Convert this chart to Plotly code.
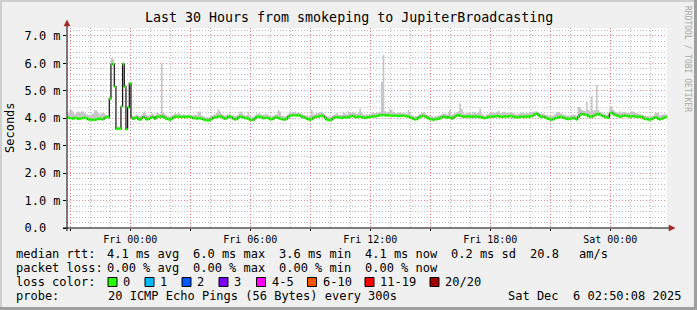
import plotly.graph_objects as go
import pandas as pd

# ---------------- data ----------------
# median RTT (ms), one value per 5-minute step, 12 values per hour row
median_ms = [
    4.02, 4.00, 4.00, 3.99, 4.01, 4.00, 3.98, 3.99, 4.00, 4.01, 4.02, 4.00,
    3.96, 3.95, 3.94, 3.95, 3.94, 3.96, 3.98, 3.99, 3.96, 3.97, 4.02, 4.04,
    4.04, 4.72, 5.97, 5.97, 5.15, 3.62, 3.62, 3.62, 4.42, 5.97, 5.15, 3.60,
    4.40, 5.27, 4.02, 3.98, 4.00, 4.03, 3.97, 3.95, 4.00, 4.05, 4.02, 3.96,
    3.97, 4.00, 4.04, 4.03, 3.98, 4.05, 4.06, 4.04, 4.08, 4.05, 4.02, 3.98,
    3.97, 3.95, 3.98, 4.02, 4.06, 4.05, 4.06, 4.05, 4.04, 4.06, 4.04, 4.05,
    4.06, 4.05, 4.03, 4.00, 4.01, 3.99, 4.00, 4.00, 3.98, 3.96, 3.94, 3.93,
    3.92, 3.94, 3.98, 4.02, 4.03, 4.04, 4.06, 4.07, 4.05, 4.01, 3.98, 4.00,
    4.05, 4.06, 4.03, 3.99, 3.96, 3.97, 4.02, 4.06, 4.05, 4.03, 4.00, 4.01,
    3.98, 3.95, 3.93, 3.94, 3.99, 4.04, 4.06, 4.05, 4.03, 4.00, 4.01, 4.02,
    4.00, 3.97, 3.96, 3.99, 4.02, 4.03, 4.01, 3.99, 3.97, 3.96, 3.95, 3.98,
    4.05, 4.09, 4.10, 4.11, 4.11, 4.10, 4.11, 4.09, 4.06, 4.03, 4.02, 3.99,
    3.96, 3.95, 3.97, 4.01, 4.04, 4.05, 4.06, 4.08, 4.09, 4.08, 4.02, 3.96,
    3.94, 3.93, 3.96, 4.00, 4.03, 4.04, 4.03, 4.02, 4.01, 4.03, 4.04, 4.02,
    4.04, 4.06, 4.09, 4.08, 4.05, 4.04, 4.06, 4.05, 4.04, 4.02, 4.01, 4.03,
    4.03, 4.05, 4.06, 4.07, 4.07, 4.08, 4.10, 4.11, 4.12, 4.11, 4.12, 4.10,
    4.11, 4.10, 4.09, 4.09, 4.10, 4.09, 4.08, 4.09, 4.10, 4.09, 4.08, 4.07,
    4.06, 4.03, 4.01, 3.98, 3.96, 3.97, 4.01, 4.05, 4.08, 4.09, 4.07, 4.03,
    4.00, 3.97, 3.96, 3.95, 3.96, 3.97, 3.99, 4.00, 4.03, 4.06, 4.05, 4.02,
    4.04, 4.02, 3.99, 4.02, 4.06, 4.10, 4.11, 4.09, 4.07, 4.06, 4.05, 4.06,
    4.07, 4.06, 4.05, 4.06, 4.07, 4.05, 4.06, 4.04, 4.03, 4.01, 4.00, 4.02,
    4.04, 4.06, 4.05, 4.06, 4.07, 4.08, 4.07, 4.06, 4.05, 4.06, 4.07, 4.06,
    4.07, 4.08, 4.07, 4.06, 4.04, 4.03, 4.04, 4.05, 4.06, 4.06, 4.05, 4.06,
    4.06, 4.07, 4.08, 4.10, 4.14, 4.17, 4.12, 4.07, 4.05, 4.06, 4.03, 4.00,
    3.98, 3.96, 3.95, 3.97, 4.00, 4.01, 4.03, 4.05, 4.04, 4.02, 4.00, 3.98,
    3.97, 3.98, 4.00, 4.02, 3.99, 3.96, 4.05, 4.12, 4.16, 4.14, 4.13, 4.12,
    4.08, 4.06, 4.05, 4.08, 4.11, 4.14, 4.15, 4.12, 4.10, 4.07, 4.05, 4.03,
    4.02, 4.18, 4.20, 4.16, 4.12, 4.10, 4.08, 4.06, 4.07, 4.09, 4.10, 4.09,
    4.07, 4.06, 4.07, 4.08, 4.07, 4.06, 4.05, 4.06, 4.04, 4.00, 3.98, 3.97,
    3.96, 3.95, 3.97, 4.00, 4.03, 4.02, 3.98, 3.96, 3.99, 4.01, 4.03, 4.04,
]

# slowest ping of each 5-minute round (top of the smoke), ms
max_ms = [
    4.18, 4.33, 4.30, 4.20, 4.15, 4.22, 4.25, 4.22, 4.26, 4.25, 4.18, 4.15,
    4.12, 4.10, 4.15, 4.18, 4.30, 4.28, 4.20, 4.14, 4.18, 4.22, 4.15, 4.12,
    4.10, 4.80, 6.20, 6.15, 5.20, 3.70, 3.68, 3.70, 4.50, 6.05, 5.25, 3.68,
    4.45, 5.33, 4.12, 4.08, 4.10, 4.15, 4.10, 4.08, 4.12, 4.20, 4.26, 4.12,
    4.10, 4.12, 4.18, 4.15, 4.10, 4.20, 4.18, 4.15, 6.00, 4.22, 4.15, 4.10,
    4.08, 4.06, 4.10, 4.15, 4.18, 4.15, 4.20, 4.16, 4.12, 4.15, 4.14, 4.12,
    4.15, 4.14, 4.12, 4.10, 4.14, 4.12, 4.24, 4.25, 4.10, 4.08, 4.05, 4.04,
    4.03, 4.06, 4.10, 4.12, 4.15, 4.20, 4.33, 4.25, 4.18, 4.12, 4.10, 4.12,
    4.15, 4.16, 4.12, 4.10, 4.08, 4.10, 4.15, 4.25, 4.24, 4.14, 4.10, 4.12,
    4.24, 4.08, 4.05, 4.06, 4.10, 4.15, 4.18, 4.16, 4.14, 4.12, 4.14, 4.16,
    4.12, 4.08, 4.07, 4.10, 4.14, 4.15, 4.30, 4.25, 4.10, 4.08, 4.06, 4.10,
    4.16, 4.25, 4.20, 4.22, 4.24, 4.20, 4.22, 4.18, 4.16, 4.14, 4.12, 4.10,
    4.08, 4.10, 4.30, 4.14, 4.16, 4.18, 4.20, 4.22, 4.25, 4.20, 4.14, 4.08,
    4.06, 4.05, 4.08, 4.12, 4.15, 4.18, 4.14, 4.13, 4.12, 4.24, 4.18, 4.14,
    4.26, 4.18, 4.20, 4.22, 4.18, 4.16, 4.18, 4.36, 4.20, 4.14, 4.12, 4.15,
    4.14, 4.16, 4.18, 4.20, 4.18, 4.20, 4.22, 4.25, 5.33, 6.30, 4.26, 4.22,
    4.24, 4.36, 4.30, 4.22, 4.20, 4.18, 4.22, 4.20, 4.18, 4.20, 4.18, 4.16,
    4.30, 4.18, 4.12, 4.08, 4.07, 4.08, 4.12, 4.16, 4.20, 4.22, 4.18, 4.14,
    4.12, 4.08, 4.07, 4.06, 4.07, 4.08, 4.10, 4.12, 4.15, 4.18, 4.16, 4.14,
    4.20, 4.30, 4.12, 4.16, 4.20, 4.22, 4.26, 4.54, 4.36, 4.18, 4.16, 4.18,
    4.20, 4.18, 4.16, 4.22, 4.20, 4.18, 4.20, 4.36, 4.16, 4.12, 4.10, 4.14,
    4.16, 4.18, 4.20, 4.24, 4.20, 4.22, 4.28, 4.18, 4.20, 4.22, 4.24, 4.20,
    4.18, 4.20, 4.22, 4.18, 4.16, 4.15, 4.16, 4.18, 4.20, 4.18, 4.17, 4.18,
    4.18, 4.20, 4.22, 4.24, 4.25, 4.26, 4.22, 4.18, 4.16, 4.18, 4.14, 4.12,
    4.10, 4.08, 4.07, 4.10, 4.16, 4.22, 4.24, 4.20, 4.16, 4.14, 4.12, 4.10,
    4.08, 4.10, 4.12, 4.14, 4.12, 4.10, 4.42, 4.40, 4.30, 4.28, 4.26, 4.60,
    4.30, 4.26, 4.79, 4.28, 4.30, 5.21, 4.30, 4.24, 4.22, 4.18, 4.16, 4.14,
    4.14, 4.43, 4.43, 4.30, 4.24, 4.22, 4.20, 4.26, 4.20, 4.22, 4.24, 4.20,
    4.18, 4.20, 4.26, 4.24, 4.20, 4.18, 4.16, 4.15, 4.14, 4.12, 4.10, 4.08,
    4.07, 4.06, 4.08, 4.10, 4.18, 4.20, 4.20, 4.10, 4.12, 4.14, 4.16, 4.15,
]

y_tick_vals = [0, 1, 2, 3, 4, 5, 6, 7]
y_tick_text = ["0.0\u00a0\u00a0", "1.0 m", "2.0 m", "3.0 m", "4.0 m", "5.0 m", "6.0 m", "7.0 m"]

title_text = "Last 30 Hours from smokeping to JupiterBroadcasting"
rtt_stats = ["4.1 ms avg", "6.0 ms max", "3.6 ms min", "4.1 ms now", "0.2 ms sd", "20.8", "am/s"]
loss_stats = ["0.00 % avg", "0.00 % max", "0.00 % min", "0.00 % now"]
loss_labels = ["0", "1", "2", "3", "4-5", "6-10", "11-19", "20/20"]
loss_colors = ["#26ff00", "#00b8ff", "#0059ff", "#7e00ff", "#ff00ff", "#ff5500", "#ff0000", "#a00000"]
probe_text = "20 ICMP Echo Pings (56 Bytes) every 300s"
stamp_text = "Sat Dec\u00a0 6 02:50:08 2025"

# ---------------- layout helpers ----------------
W, H = 697, 310
L, T, PW, PH = 67, 28, 600, 200
FONT = "DejaVu Sans Mono"


def px(x):
    return (x - L) / PW


def py(y):
    return (T + PH - y) / PH


start = pd.Timestamp("2025-12-04 20:50:08")
end = pd.Timestamp("2025-12-06 02:50:08")
step = pd.Timedelta(minutes=5)
times = list(pd.date_range("2025-12-04 20:52:00", periods=len(median_ms), freq="5min"))

xs = times + [times[-1] + step]
med_ext = median_ms + [median_ms[-1]]
max_ext = max_ms + [max_ms[-1]]

fig = go.Figure()
# smoke
fig.add_trace(go.Scatter(x=xs, y=med_ext, mode="lines", line=dict(width=0, shape="hv"),
                         hoverinfo="skip"))
fig.add_trace(go.Scatter(x=xs, y=max_ext, mode="lines", line=dict(width=0, shape="hv"),
                         fill="tonexty", fillcolor="#c6c6c6", hoverinfo="skip"))
# median: thin dark connector + loss-coloured horizontal pieces
fig.add_trace(go.Scatter(x=xs, y=med_ext, mode="lines",
                         line=dict(width=1.2, shape="hv", color="#111111"), hoverinfo="skip"))
seg_x, seg_y = [], []
for t, v in zip(times, median_ms):
    seg_x += [t, t + step, None]
    seg_y += [v, v, None]
fig.add_trace(go.Scatter(x=seg_x, y=seg_y, mode="lines",
                         line=dict(width=2.6, color=loss_colors[0]), hoverinfo="skip"))

major = list(pd.date_range("2025-12-04 21:00", "2025-12-06 00:00", freq="3h"))
major_text = [t.strftime("%a %H:%M") if t.hour % 6 == 0 else "" for t in major]
minor = list(pd.date_range("2025-12-04 21:00", "2025-12-06 02:00", freq="1h"))
ymin = [round(0.2 * k, 1) for k in range(1, 37) if k % 5]

RED = "rgba(240,120,120,0.85)"
GRAY = "rgba(170,170,170,0.8)"
DASH = "1px,2px"

fig.update_xaxes(range=[start, end], tickmode="array", tickvals=major, ticktext=major_text,
                 showgrid=True, gridcolor=RED, griddash=DASH, gridwidth=1,
                 ticks="outside", ticklen=2, tickcolor="#000",
                 tickfont=dict(family=FONT, size=10, color="#000"),
                 showline=False, zeroline=False, fixedrange=True,
                 minor=dict(tickmode="array", tickvals=minor, showgrid=True,
                            gridcolor=GRAY, griddash=DASH, gridwidth=1, ticks=""))
fig.update_yaxes(range=[0, 7.29], tickmode="array", tickvals=y_tick_vals, ticktext=y_tick_text,
                 showgrid=True, gridcolor=RED, griddash=DASH, gridwidth=1,
                 ticks="outside", ticklen=3, tickcolor="#000",
                 tickfont=dict(family=FONT, size=12, color="#000"),
                 showline=False, zeroline=False, fixedrange=True,
                 minor=dict(tickmode="array", tickvals=ymin, showgrid=True,
                            gridcolor=GRAY, griddash=DASH, gridwidth=1, ticks=""))

shapes = []
# frame
shapes.append(dict(type="rect", xref="paper", yref="paper", x0=px(0), x1=px(W), y0=py(0), y1=py(2),
                   fillcolor="#CFCFCF", line=dict(width=0), layer="above"))
shapes.append(dict(type="rect", xref="paper", yref="paper", x0=px(0), x1=px(2), y0=py(0), y1=py(H),
                   fillcolor="#CFCFCF", line=dict(width=0), layer="above"))
shapes.append(dict(type="rect", xref="paper", yref="paper", x0=px(0), x1=px(W), y0=py(H - 3), y1=py(H),
                   fillcolor="#9E9E9E", line=dict(width=0), layer="above"))
shapes.append(dict(type="rect", xref="paper", yref="paper", x0=px(W - 3), x1=px(W), y0=py(0), y1=py(H),
                   fillcolor="#9E9E9E", line=dict(width=0), layer="above"))
# axes
shapes.append(dict(type="line", xref="paper", yref="paper", x0=px(63), x1=px(670), y0=0, y1=0,
                   line=dict(color="#000", width=1), layer="above"))
shapes.append(dict(type="line", xref="paper", yref="paper", x0=0, x1=0, y0=py(231), y1=py(25),
                   line=dict(color="#000", width=1), layer="above"))
ARROW = "#A02828"
shapes.append(dict(type="path", xref="paper", yref="paper",
                   path=f"M {px(669)} {py(225)} L {px(675)} {py(228)} L {px(669)} {py(231)} Z",
                   fillcolor=ARROW, line=dict(color=ARROW, width=0.5), layer="above"))
shapes.append(dict(type="path", xref="paper", yref="paper",
                   path=f"M {px(64)} {py(26)} L {px(67)} {py(20)} L {px(70)} {py(26)} Z",
                   fillcolor=ARROW, line=dict(color=ARROW, width=0.5), layer="above"))

# loss colour boxes
box_left = [108, 145, 182, 219, 256.5, 307.5, 365, 430]
for bx, col in zip(box_left, loss_colors):
    shapes.append(dict(type="rect", xref="paper", yref="paper", x0=px(bx), x1=px(bx + 9),
                       y0=py(286.5), y1=py(277.5), fillcolor=col,
                       line=dict(color="#000", width=1), layer="above"))

anns = []


def ann(text, x, y, size=12, anchor="left", color="#000", angle=0):
    anns.append(dict(text=text, x=px(x), y=py(y), xref="paper", yref="paper",
                     xanchor=anchor, yanchor="middle", showarrow=False, textangle=angle,
                     borderpad=0, borderwidth=0,
                     font=dict(family=FONT, size=size, color=color)))


ann(title_text, W / 2, 18, size=13.3, anchor="center")
ann("Seconds", 10, 128, size=12, anchor="center", angle=-90)
ann("RRDTOOL / TOBI OETIKER", 688, 59, size=8, anchor="center", color="#a8a8a8", angle=90)

col_x = [106.5, 192.5, 278.5, 364.5, 451, 530, 579]
ann("median rtt:", 15.5, 254)
for tx, cx in zip(rtt_stats, col_x):
    ann(tx, cx, 254)
ann("packet loss:", 15.5, 268)
for tx, cx in zip(loss_stats, col_x):
    ann(tx, cx, 268)
ann("loss color:", 15.5, 282)
for lb, bx in zip(loss_labels, box_left):
    ann(lb, bx + 15, 282)
ann("probe:", 15.5, 296)
ann(probe_text, 107.5, 296)
ann(stamp_text, 681, 296, anchor="right")

fig.update_layout(width=W, height=H, margin=dict(l=L, r=W - L - PW, t=T, b=H - T - PH),
                  paper_bgcolor="#F0F0F0", plot_bgcolor="#FFFFFF", showlegend=False,
                  shapes=shapes, annotations=anns)

fig.write_html("out.html", config={"displayModeBar": False, "staticPlot": True})
